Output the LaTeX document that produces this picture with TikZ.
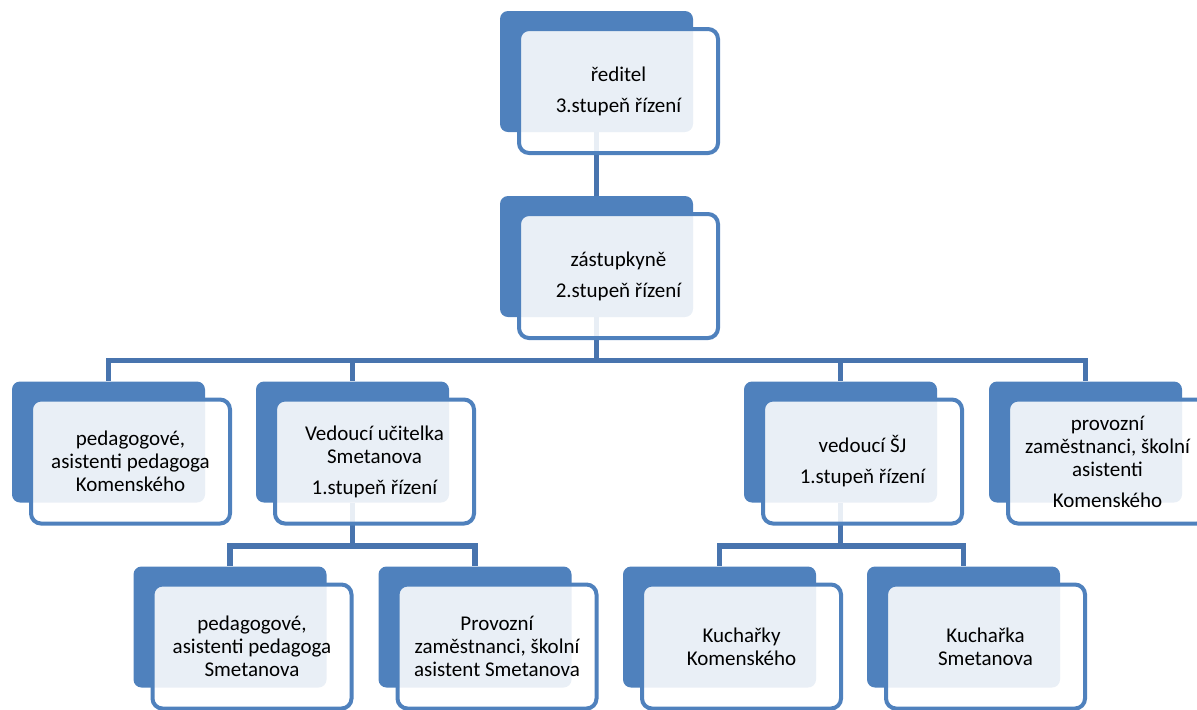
\documentclass[tikz,border=0pt]{standalone}
\usepackage{fontspec}
\setmainfont{Carlito}
\usepackage{tikz}
\usetikzlibrary{positioning}
\definecolor{boxblue}{RGB}{79,129,189}
\definecolor{linkblue}{RGB}{72,116,174}

\begin{document}
\begin{tikzpicture}[x=0.5pt, y=-0.5pt,
    back/.style={fill=boxblue, rounded corners=4pt, minimum width=96.5pt, minimum height=60.5pt, inner sep=0pt},
    front/.style={draw=boxblue, line width=2pt, fill=white, fill opacity=0.88, text opacity=1,
        rounded corners=5pt, minimum width=99.5pt, minimum height=62pt, inner sep=2pt,
        align=center, font=\fontsize{10.5}{11.5}\selectfont, xshift=11pt, yshift=-9.75pt},
    link/.style={draw=linkblue, line width=2.75pt}]
        \useasboundingbox (0,0) rectangle (1197,709);
        % Back boxes
        \node[back] (dirB) at (596.5,71.5) {};
        \node[back] (zastB) at (596.5,256.5) {};
        \node[back] (pedKB) at (108.5,442) {};
        \node[back] (vedSB) at (352.5,442) {};
        \node[back] (vedSJB) at (840.5,442) {};
        \node[back] (provKB) at (1085.5,442) {};
        \node[back] (pedSB) at (230,627) {};
        \node[back] (provSB) at (475,627) {};
        \node[back] (kuchKB) at (719.5,627) {};
        \node[back] (kuchSB) at (963.5,627) {};
        % Links
        \draw[link] (dirB.south) -- (zastB.north);
        \draw[link] (zastB.south) -- ++(0,43) -| (pedKB.north);
        \draw[link] (zastB.south) -- ++(0,43) -| (vedSB.north);
        \draw[link] (zastB.south) -- ++(0,43) -| (vedSJB.north);
        \draw[link] (zastB.south) -- ++(0,43) -| (provKB.north);
        \draw[link] (vedSB.south) -- ++(0,43) -| (pedSB.north);
        \draw[link] (vedSB.south) -- ++(0,43) -| (provSB.north);
        \draw[link] (vedSJB.south) -- ++(0,43) -| (kuchKB.north);
        \draw[link] (vedSJB.south) -- ++(0,43) -| (kuchSB.north);
        % Front boxes
        \node[front] (dir) at (dirB) {ředitel\\[4pt] 3.stupeň řízení};
        \node[front] (zast) at (zastB) {zástupkyně\\[4pt] 2.stupeň řízení};
        \node[front] (pedK) at (pedKB) {pedagogové,\\ asistenti pedagoga\\ Komenského};
        \node[front] (vedS) at (vedSB) {Vedoucí učitelka\\ Smetanova\\[4pt] 1.stupeň řízení};
        \node[front] (vedSJ) at (vedSJB) {vedoucí ŠJ\\[4pt] 1.stupeň řízení};
        \node[front] (provK) at (provKB) {provozní\\ zaměstnanci, školní\\ asistenti\\[4pt] Komenského};
        \node[front] (pedS) at (pedSB) {pedagogové,\\ asistenti pedagoga\\ Smetanova};
        \node[front] (provS) at (provSB) {Provozní\\ zaměstnanci, školní\\ asistent Smetanova};
        \node[front] (kuchK) at (kuchKB) {Kuchařky\\ Komenského};
        \node[front] (kuchS) at (kuchSB) {Kuchařka\\ Smetanova};
    \end{tikzpicture}
\end{document}
